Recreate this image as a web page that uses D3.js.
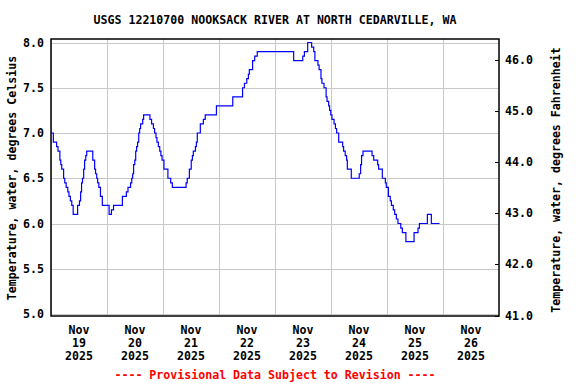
<!DOCTYPE html>
<html>
<head>
<meta charset="utf-8">
<script src="https://cdn.jsdelivr.net/npm/d3@7"></script>
<style>
  body { margin: 0; background: #fff; }
  svg text { font-family: "DejaVu Sans Mono", monospace; font-weight: bold; font-size: 11.6px; }
</style>
</head>
<body>
<script>
// gage readings: hours after Nov 19 2025 00:00, and the value from that time on (deg C)
var hours = [0, 1.0, 2.4, 3.0, 3.8, 4.2, 4.6, 5.4, 5.9, 6.5, 7.2, 7.7, 8.3, 8.9, 9.5,
  11.4, 12.2, 12.7, 13.1, 13.5, 14.0, 14.4, 14.9, 15.3, 17.9, 18.7, 19.1, 19.6, 20.0,
  20.5, 21.2, 22.0, 24.9, 25.9, 26.8, 30.6, 32.3, 33.0, 34.1, 34.6, 35.0, 35.4, 35.9,
  36.3, 36.7, 37.1, 37.6, 38.0, 38.4, 39.3, 39.7, 42.4, 43.1, 43.9, 44.4, 45.0, 45.4,
  46.0, 46.6, 47.1, 47.6, 48.4, 50.1, 51.3, 52.0, 57.9, 58.4, 59.3, 60.1, 60.6, 61.0,
  61.9, 62.3, 62.7, 64.0, 65.3, 66.1, 70.9, 77.9, 82.1, 82.9, 83.9, 84.6, 85.0, 86.4,
  87.3, 88.4, 104.0, 107.9, 108.6, 110.0, 111.7, 112.6, 113.1, 114.4, 114.9, 115.7,
  116.1, 117.0, 117.9, 118.3, 119.0, 119.4, 119.9, 120.4, 121.3, 121.9, 122.4, 123.3,
  125.0, 125.4, 126.1, 126.7, 127.0, 128.7, 132.1, 132.7, 133.1, 133.7, 137.6, 138.3,
  140.0, 140.4, 142.0, 143.3, 143.7, 144.6, 145.4, 145.9, 146.7, 147.3, 148.0, 148.7,
  149.9, 150.6, 152.1, 155.6, 157.3, 157.9, 161.3, 163.0, 166.5];
var tempC = [7.0, 6.9, 6.85, 6.8, 6.7, 6.65, 6.6, 6.5, 6.45, 6.4, 6.35, 6.3, 6.25, 6.2, 6.1,
  6.2, 6.25, 6.35, 6.45, 6.5, 6.6, 6.7, 6.75, 6.8, 6.7, 6.6, 6.55, 6.5, 6.45,
  6.4, 6.3, 6.2, 6.1, 6.15, 6.2, 6.3, 6.35, 6.4, 6.45, 6.5, 6.55, 6.65, 6.7,
  6.8, 6.85, 6.9, 7.0, 7.05, 7.1, 7.15, 7.2, 7.15, 7.1, 7.05, 7.0, 6.95, 6.9,
  6.85, 6.8, 6.75, 6.7, 6.6, 6.5, 6.45, 6.4, 6.45, 6.5, 6.6, 6.7, 6.75, 6.8,
  6.85, 6.9, 7.0, 7.1, 7.15, 7.2, 7.3, 7.4, 7.5, 7.55, 7.6, 7.65, 7.7, 7.8,
  7.85, 7.9, 7.8, 7.85, 7.9, 8.0, 7.95, 7.9, 7.8, 7.75, 7.7, 7.6,
  7.55, 7.5, 7.4, 7.35, 7.3, 7.25, 7.2, 7.15, 7.1, 7.05, 7.0, 6.9,
  6.85, 6.8, 6.75, 6.7, 6.6, 6.5, 6.55, 6.65, 6.75, 6.8, 6.75, 6.7,
  6.65, 6.6, 6.5, 6.45, 6.4, 6.3, 6.25, 6.2, 6.15, 6.1, 6.05, 6.0,
  5.95, 5.9, 5.8, 5.9, 5.95, 6.0, 6.1, 6.0, 6.0];

var celsiusTicks = [5.0, 5.5, 6.0, 6.5, 7.0, 7.5, 8.0];
var fahrTicks = [41, 42, 43, 44, 45, 46];
var dayLabels = ["19", "20", "21", "22", "23", "24", "25", "26"];
var title = "USGS 12210700 NOOKSACK RIVER AT NORTH CEDARVILLE, WA";

var W = 576, H = 384;
// (window.top is read-only, so plot edges get their own names)
var pL = 51, pR = 499, pT = 39, pB = 316;
var start = new Date(2025, 10, 19), end = new Date(2025, 10, 27);

var svg = d3.select("body").append("svg").attr("width", W).attr("height", H);

var x = d3.scaleTime().domain([start, end]).range([pL, pR]);
var y = d3.scaleLinear().domain([5, 8]).range([314, 42.5]);
var yF = d3.scaleLinear().domain([41, 46.4]).range([315.5, 39.6]);

var data = hours.map(function (h, i) {
  return { t: d3.timeMinute.offset(start, Math.round(h * 60)), v: tempC[i] };
});

// grid
var grid = svg.append("g").attr("stroke", "#c8c8c8").attr("stroke-width", 1).attr("shape-rendering", "crispEdges");
grid.selectAll(".h").data(celsiusTicks).enter().append("line")
  .attr("x1", pL).attr("x2", pR)
  .attr("y1", function (d) { return Math.round(y(d)) + 0.5; })
  .attr("y2", function (d) { return Math.round(y(d)) + 0.5; });
grid.selectAll(".v").data(d3.timeDay.range(start, end)).enter().append("line")
  .attr("y1", pT).attr("y2", pB)
  .attr("x1", function (d) { return Math.round(x(d)) + 0.5; })
  .attr("x2", function (d) { return Math.round(x(d)) + 0.5; });

// data line
var line = d3.line()
  .x(function (d) { return x(d.t); })
  .y(function (d) { return y(d.v); })
  .curve(d3.curveStepAfter);
svg.append("path").datum(data)
  .attr("fill", "none").attr("stroke", "#0000ff").attr("stroke-width", 1.2)
  .attr("d", line);

// frame
svg.append("rect").attr("x", pL).attr("y", pT)
  .attr("width", pR - pL).attr("height", pB - pT)
  .attr("fill", "none").attr("stroke", "#000").attr("stroke-width", 1.5);

// left axis labels
svg.selectAll(".yl").data(celsiusTicks).enter().append("text")
  .attr("x", 44).attr("y", function (d) { return y(d); }).attr("dy", "0.35em")
  .attr("text-anchor", "end").text(function (d) { return d.toFixed(1); });

// right axis ticks (inside) and labels
svg.selectAll(".rt").data(fahrTicks).enter().append("line")
  .attr("x1", pR - 4).attr("x2", pR)
  .attr("y1", function (d) { return Math.round(yF(d)) + 0.5; })
  .attr("y2", function (d) { return Math.round(yF(d)) + 0.5; })
  .attr("stroke", "#000").attr("shape-rendering", "crispEdges");
svg.selectAll(".yr").data(fahrTicks).enter().append("text")
  .attr("x", 505).attr("y", function (d) { return yF(d); }).attr("dy", "0.35em")
  .text(function (d) { return d.toFixed(1); });

// date labels centered on noon
var noons = d3.timeDay.range(start, end).map(function (d) { return d3.timeHour.offset(d, 12); });
var xl = svg.selectAll(".xl").data(noons).enter().append("text")
  .attr("text-anchor", "middle")
  .attr("transform", function (d) { return "translate(" + x(d) + ",0)"; });
xl.append("tspan").attr("x", 0).attr("y", 334).text("Nov");
xl.append("tspan").attr("x", 0).attr("y", 347).text(function (d, i) { return dayLabels[i]; });
xl.append("tspan").attr("x", 0).attr("y", 360).text("2025");

// titles
svg.append("text").attr("x", (pL + pR) / 2).attr("y", 23.5)
  .attr("text-anchor", "middle").text(title);
svg.append("text").attr("transform", "translate(16,178) rotate(-90)")
  .attr("text-anchor", "middle").text("Temperature, water, degrees Celsius");
svg.append("text").attr("transform", "translate(560,180) rotate(-90)")
  .attr("text-anchor", "middle").text("Temperature, water, degrees Fahrenheit");
svg.append("text").attr("x", 275).attr("y", 379).attr("fill", "#ff0000")
  .attr("text-anchor", "middle").text("---- Provisional Data Subject to Revision ----");
</script>
</body>
</html>
